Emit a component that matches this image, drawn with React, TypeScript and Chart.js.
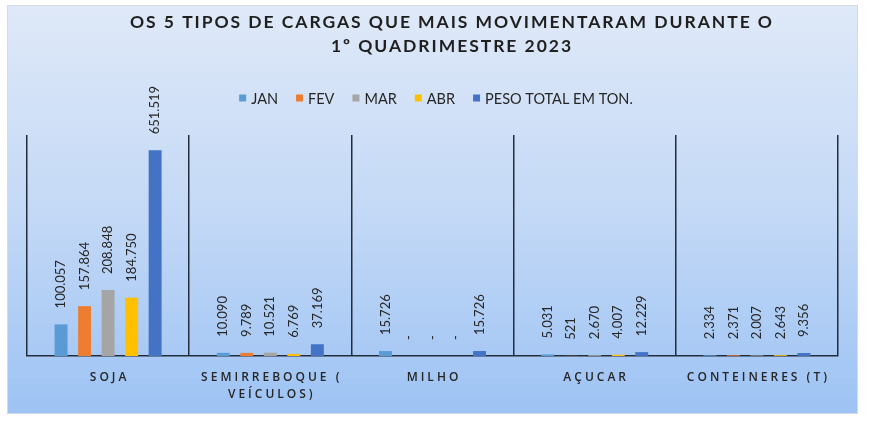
import React, { useEffect, useRef } from "react";
import { Chart, registerables } from "chart.js";

Chart.register(...registerables);

const categories = [["SOJA"], ["SEMIRREBOQUE (", "VEÍCULOS)"], ["MILHO"], ["AÇUCAR"], ["CONTEINERES (T)"]];
const seriesNames = ["JAN", "FEV", "MAR", "ABR", "PESO TOTAL EM TON."];
const jan = [100057, 10090, 15726, 5031, 2334];
const fev = [157864, 9789, 0, 521, 2371];
const mar = [208848, 10521, 0, 2670, 2007];
const abr = [184750, 6769, 0, 4007, 2643];
const total = [651519, 37169, 15726, 12229, 9356];
const seriesColors = ["#5b9bd5", "#ed7d31", "#a5a5a5", "#ffc000", "#4472c4"];
const titleLines = ["OS 5 TIPOS DE CARGAS QUE MAIS MOVIMENTARAM DURANTE O", "1º QUADRIMESTRE 2023"];
const yMax = 700000;

const LATO = "Lato, 'Open Sans', sans-serif";
const OPEN = "'Open Sans', Lato, sans-serif";

function fmt(n: number): string {
  if (n === 0) return "-";
  return String(n).replace(/\B(?=(\d{3})+(?!\d))/g, ".");
}

const decor = {
  id: "decor",
  beforeDraw(chart: any) {
    const { ctx, width, height } = chart;
    ctx.save();
    ctx.fillStyle = "#ffffff";
    ctx.fillRect(0, 0, width, height);
    const g = ctx.createLinearGradient(0, 5, 0, 414);
    g.addColorStop(0, "#dfe9f8");
    g.addColorStop(0.5, "#c4d9f6");
    g.addColorStop(1, "#9dc3f4");
    ctx.fillStyle = g;
    ctx.fillRect(7, 5, 851, 409);
    ctx.strokeStyle = "#d3dbe6";
    ctx.lineWidth = 1;
    ctx.strokeRect(7.5, 5.5, 850, 408);

    // title
    ctx.fillStyle = "#1f1f1f";
    ctx.font = `bold 17.5px ${LATO}`;
    (ctx as any).letterSpacing = "0px";
    const w0 = ctx.measureText(titleLines[0]).width;
    const sp = Math.max(0, (642 - w0) / (titleLines[0].length - 1));
    (ctx as any).letterSpacing = sp + "px";
    ctx.textAlign = "center";
    ctx.textBaseline = "middle";
    titleLines.forEach((t, i) => ctx.fillText(t, 451 + sp / 2, 22 + i * 24));

    // legend
    (ctx as any).letterSpacing = "0px";
    ctx.font = `14.5px ${LATO}`;
    const box = 7, gapBox = 5, gapItem = 18;
    const widths = seriesNames.map((s) => box + gapBox + ctx.measureText(s).width);
    const tot = widths.reduce((a, b) => a + b, 0) + gapItem * (widths.length - 1);
    let x = 436 - tot / 2;
    const ly = 98;
    ctx.textAlign = "left";
    seriesNames.forEach((s, i) => {
      ctx.fillStyle = seriesColors[i];
      ctx.fillRect(x, ly - box / 2, box, box);
      ctx.fillStyle = "#262626";
      ctx.fillText(s, x + box + gapBox, ly + 1);
      x += widths[i] + gapItem;
    });
    ctx.restore();
  },
  afterDatasetsDraw(chart: any) {
    const { ctx } = chart;
    ctx.save();
    // data labels
    ctx.font = `13px ${LATO}`;
    ctx.fillStyle = "#262626";
    ctx.textAlign = "left";
    ctx.textBaseline = "middle";
    chart.data.datasets.forEach((ds: any, di: number) => {
      const meta = chart.getDatasetMeta(di);
      meta.data.forEach((bar: any, i: number) => {
        const v = ds.data[i];
        ctx.save();
        ctx.translate(bar.x, bar.y - 16);
        ctx.rotate(-Math.PI / 2);
        ctx.fillText(fmt(v), 0, 0);
        ctx.restore();
      });
    });
    // category labels
    const xs = chart.scales.x;
    ctx.font = `600 12px ${OPEN}`;
    const ls = 3;
    (ctx as any).letterSpacing = ls + "px";
    ctx.fillStyle = "#262626";
    ctx.textAlign = "center";
    categories.forEach((lines, i) => {
      const cx = xs.getPixelForValue(i) + ls / 2;
      lines.forEach((l, k) => ctx.fillText(l, cx, 378 + k * 17));
    });
    ctx.restore();
  },
};

export default function App() {
  const ref = useRef<HTMLCanvasElement | null>(null);
  useEffect(() => {
    if (!ref.current) return;
    const series = [jan, fev, mar, abr, total];
    const chart = new Chart(ref.current, {
      type: "bar",
      data: {
        labels: categories.map((c) => c.join(" ")),
        datasets: series.map((d, i) => ({
          label: seriesNames[i],
          data: d,
          backgroundColor: seriesColors[i],
          categoryPercentage: 0.725,
          barPercentage: 0.55,
        })),
      },
      options: {
        responsive: false,
        animation: false,
        layout: { padding: { left: 27, right: 32, top: 135, bottom: 70 } },
        plugins: { legend: { display: false }, title: { display: false }, tooltip: { enabled: false } },
        scales: {
          x: {
            ticks: { display: false },
            grid: { display: true, color: "#232d3b", lineWidth: 1.5, offset: true, drawTicks: false },
            border: { display: true, color: "#232d3b", width: 1.5 },
          },
          y: { display: false, min: 0, max: yMax },
        },
      },
      plugins: [decor],
    });
    return () => chart.destroy();
  }, []);
  return (
    <div style={{ position: "absolute", left: 0, top: 0, width: 870, height: 426 }}>
      <canvas ref={ref} width={870} height={426} style={{ width: 870, height: 426 }} />
    </div>
  );
}
